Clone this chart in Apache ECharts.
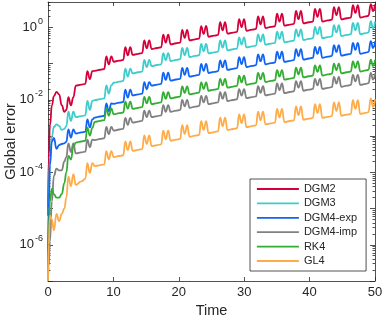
<!DOCTYPE html>
<html><head><meta charset="utf-8">
<script src="https://cdn.jsdelivr.net/npm/echarts@6/dist/echarts.min.js"></script>
<style>html,body{margin:0;padding:0;background:#fff}#c{width:382px;height:316px}</style>
</head><body><div id="c"></div>
<script>
// Shared time samples (x values)
const time = [0, 0.1, 0.3, 0.6, 0.9, 1.3, 1.7, 2.1, 2.5,
 2.8, 3.12, 3.5, 3.88, 4.25, 5.1,
 5.7, 6.02, 6.4, 6.78, 7.15, 8.0,
 8.6, 8.92, 9.3, 9.68, 10.05, 10.9,
 11.5, 11.82, 12.2, 12.58, 12.95, 13.8,
 14.4, 14.72, 15.1, 15.48, 15.85, 16.7,
 17.3, 17.62, 18.0, 18.38, 18.75, 19.6,
 20.2, 20.52, 20.9, 21.28, 21.65, 22.5,
 23.1, 23.42, 23.8, 24.18, 24.55, 25.4,
 26.0, 26.32, 26.7, 27.08, 27.45, 28.3,
 28.9, 29.22, 29.6, 29.98, 30.35, 31.2,
 31.8, 32.12, 32.5, 32.88, 33.25, 34.1,
 34.7, 35.02, 35.4, 35.78, 36.15, 37.0,
 37.6, 37.92, 38.3, 38.68, 39.05, 39.9,
 40.5, 40.82, 41.2, 41.58, 41.95, 42.8,
 43.4, 43.72, 44.1, 44.48, 44.85, 45.7,
 46.3, 46.62, 47.0, 47.38, 47.75, 48.6,
 49.0, 49.35, 49.7, 50.0];

// Global error, stored as exponents (log10 of the error)
const dgm2Exp = [-5.2, -3.6, -2.7, -2.15, -1.9, -1.78, -1.85, -2.15, -2.33,
 -2.28, -1.93, -2.15, -1.93, -1.61, -1.58,
 -1.56, -1.21, -1.43, -1.21, -1.20, -1.17,
 -1.15, -0.80, -1.02, -0.80, -0.95, -0.92,
 -0.90, -0.55, -0.77, -0.55, -0.76, -0.73,
 -0.71, -0.36, -0.58, -0.36, -0.60, -0.57,
 -0.55, -0.20, -0.42, -0.20, -0.47, -0.44,
 -0.42, -0.07, -0.29, -0.07, -0.36, -0.33,
 -0.31, 0.03, -0.18, 0.04, -0.26, -0.23,
 -0.21, 0.14, -0.08, 0.14, -0.175, -0.145,
 -0.125, 0.225, 0.005, 0.225, -0.095, -0.065,
 -0.045, 0.305, 0.085, 0.305, -0.02, 0.01,
 0.03, 0.38, 0.16, 0.38, 0.045, 0.075,
 0.095, 0.45, 0.225, 0.45, 0.11, 0.14,
 0.16, 0.51, 0.29, 0.51, 0.16, 0.19,
 0.21, 0.56, 0.34, 0.56, 0.22, 0.25,
 0.27, 0.61, 0.40, 0.61, 0.27, 0.30,
 0.32, 0.64, 0.45, 0.63];

const dgm3Exp = [-6.6, -4.6, -3.6, -3.0, -2.75, -2.68, -2.72, -2.83, -2.80,
 -2.73, -2.33, -2.58, -2.33, -2.48, -2.45,
 -2.43, -2.03, -2.28, -2.03, -2.01, -1.98,
 -1.96, -1.60, -1.83, -1.60, -1.53, -1.50,
 -1.48, -1.14, -1.36, -1.14, -1.27, -1.24,
 -1.22, -0.90, -1.10, -0.90, -1.07, -1.04,
 -1.02, -0.71, -0.91, -0.71, -0.93, -0.90,
 -0.88, -0.57, -0.77, -0.57, -0.82, -0.79,
 -0.77, -0.46, -0.66, -0.46, -0.72, -0.69,
 -0.67, -0.36, -0.56, -0.36, -0.635, -0.605,
 -0.585, -0.275, -0.475, -0.275, -0.555, -0.525,
 -0.505, -0.195, -0.395, -0.195, -0.48, -0.45,
 -0.43, -0.12, -0.32, -0.12, -0.415, -0.385,
 -0.365, -0.055, -0.255, -0.055, -0.35, -0.32,
 -0.30, 0.01, -0.19, 0.01, -0.30, -0.27,
 -0.25, 0.06, -0.14, 0.06, -0.24, -0.21,
 -0.19, 0.12, -0.08, 0.12, -0.19, -0.16,
 -0.14, 0.17, -0.03, 0.16];

const dgm4ExpExp = [-6.8, -5.0, -3.8, -3.15, -3.05, -3.35, -3.25, -3.22, -3.20,
 -3.16, -2.82, -3.04, -2.82, -2.93, -2.90,
 -2.88, -2.54, -2.76, -2.54, -2.49, -2.46,
 -2.44, -2.10, -2.32, -2.10, -2.11, -2.08,
 -2.06, -1.72, -1.94, -1.72, -1.88, -1.85,
 -1.83, -1.51, -1.71, -1.51, -1.61, -1.58,
 -1.56, -1.25, -1.45, -1.25, -1.47, -1.44,
 -1.42, -1.12, -1.31, -1.12, -1.36, -1.33,
 -1.31, -1.01, -1.20, -1.01, -1.26, -1.23,
 -1.21, -0.91, -1.10, -0.91, -1.175, -1.145,
 -1.125, -0.825, -1.015, -0.825, -1.095, -1.065,
 -1.045, -0.745, -0.935, -0.745, -1.02, -0.99,
 -0.97, -0.67, -0.86, -0.67, -0.955, -0.925,
 -0.905, -0.605, -0.795, -0.605, -0.89, -0.86,
 -0.84, -0.54, -0.73, -0.54, -0.84, -0.81,
 -0.79, -0.49, -0.68, -0.49, -0.78, -0.75,
 -0.73, -0.43, -0.62, -0.43, -0.73, -0.70,
 -0.68, -0.38, -0.57, -0.39];

const dgm4ImpExp = [-7.0, -6.6, -5.9, -4.8, -4.1, -3.9, -3.95, -3.95, -3.7,
 -3.58, -3.20, -3.44, -3.20, -3.48, -3.45,
 -3.43, -3.10, -3.31, -3.10, -3.11, -3.08,
 -3.06, -2.75, -2.95, -2.75, -2.85, -2.82,
 -2.80, -2.50, -2.69, -2.50, -2.63, -2.60,
 -2.58, -2.30, -2.48, -2.30, -2.48, -2.45,
 -2.43, -2.15, -2.33, -2.15, -2.33, -2.30,
 -2.28, -2.00, -2.18, -2.00, -2.22, -2.19,
 -2.17, -1.89, -2.07, -1.89, -2.12, -2.09,
 -2.07, -1.79, -1.97, -1.79, -2.035, -2.005,
 -1.985, -1.705, -1.885, -1.705, -1.955, -1.925,
 -1.905, -1.625, -1.805, -1.625, -1.88, -1.85,
 -1.83, -1.55, -1.73, -1.55, -1.815, -1.785,
 -1.765, -1.485, -1.665, -1.485, -1.75, -1.72,
 -1.70, -1.42, -1.60, -1.42, -1.70, -1.67,
 -1.65, -1.37, -1.55, -1.37, -1.64, -1.61,
 -1.59, -1.31, -1.49, -1.31, -1.59, -1.56,
 -1.54, -1.26, -1.44, -1.27];

const rk4Exp = [-7.0, -5.8, -4.8, -4.45, -4.6, -4.7, -4.7, -4.6, -4.3,
 -4.0, -3.55, -3.65, -3.30, -3.18, -3.15,
 -3.13, -2.77, -2.99, -2.77, -2.61, -2.58,
 -2.56, -2.24, -2.44, -2.24, -2.40, -2.37,
 -2.35, -2.05, -2.24, -2.05, -2.25, -2.22,
 -2.20, -1.92, -2.10, -1.92, -2.12, -2.09,
 -2.07, -1.79, -1.97, -1.79, -1.96, -1.93,
 -1.91, -1.63, -1.81, -1.63, -1.85, -1.82,
 -1.80, -1.52, -1.70, -1.52, -1.75, -1.72,
 -1.70, -1.42, -1.60, -1.42, -1.665, -1.635,
 -1.615, -1.335, -1.515, -1.335, -1.585, -1.555,
 -1.535, -1.255, -1.435, -1.255, -1.51, -1.48,
 -1.46, -1.18, -1.36, -1.18, -1.445, -1.415,
 -1.395, -1.115, -1.295, -1.115, -1.38, -1.35,
 -1.33, -1.05, -1.23, -1.05, -1.33, -1.30,
 -1.28, -1.00, -1.18, -1.00, -1.27, -1.24,
 -1.22, -0.94, -1.12, -0.94, -1.22, -1.19,
 -1.17, -0.89, -1.07, -0.90];

const gl4Exp = [-7.0, -6.0, -5.2, -5.3, -5.6, -5.15, -5.35, -5.15, -5.0,
 -4.70, -4.12, -4.38, -4.05, -4.35, -4.25,
 -4.18, -3.75, -4.02, -3.75, -3.83, -3.80,
 -3.78, -3.42, -3.64, -3.42, -3.58, -3.55,
 -3.53, -3.15, -3.39, -3.15, -3.41, -3.38,
 -3.36, -2.98, -3.22, -2.98, -3.28, -3.25,
 -3.23, -2.85, -3.09, -2.85, -3.13, -3.10,
 -3.08, -2.70, -2.94, -2.70, -3.02, -2.99,
 -2.97, -2.59, -2.83, -2.59, -2.92, -2.89,
 -2.87, -2.49, -2.73, -2.49, -2.835, -2.805,
 -2.785, -2.405, -2.645, -2.405, -2.755, -2.725,
 -2.705, -2.325, -2.565, -2.325, -2.68, -2.65,
 -2.63, -2.25, -2.49, -2.25, -2.615, -2.585,
 -2.565, -2.185, -2.425, -2.185, -2.55, -2.52,
 -2.50, -2.12, -2.36, -2.12, -2.50, -2.47,
 -2.45, -2.07, -2.31, -2.07, -2.44, -2.41,
 -2.39, -2.01, -2.25, -2.01, -2.39, -2.36,
 -2.34, -1.96, -2.20, -1.98];

const seriesNames = ['DGM2', 'DGM3', 'DGM4-exp', 'DGM4-imp', 'RK4', 'GL4'];
const seriesExps = [dgm2Exp, dgm3Exp, dgm4ExpExp, dgm4ImpExp, rk4Exp, gl4Exp];
const seriesColors = ['#d4003a', '#3fcccc', '#1064f5', '#808080', '#33ad33', '#ffac48'];

const xTicks = [0, 10, 20, 30, 40, 50];
const yMajorTicks = [1e-7, 1e-6, 1e-5, 1e-4, 1e-3, 1e-2, 1e-1, 1];
const yLabelTicks = [1e-6, 1e-4, 1e-2, 1];
const yMinorTicks = [];
for (let e = -7; e <= 0; e++) for (let m = 2; m <= 9; m++) { const v = m * Math.pow(10, e); if (v <= 5) yMinorTicks.push(v); }

const FONT = '"Liberation Sans", Arial, Helvetica, sans-serif';
const AX = '#262626';

const chart = echarts.init(document.getElementById('c'), null, { renderer: 'canvas' });

function yAx(pos, ticks, len, showLine, labels) {
  return {
    type: 'log', logBase: 10, min: 1e-7, max: 5, position: pos,
    axisLine: { show: showLine, lineStyle: { color: AX, width: 0.8 } },
    axisTick: { show: true, inside: true, length: len, customValues: ticks, lineStyle: { color: AX, width: 0.8 } },
    axisLabel: labels ? {
      show: true, customValues: yLabelTicks, margin: 5, fontFamily: FONT,
      formatter: v => { const e = Math.round(Math.log10(v)); return '{b|10}{s|' + (e < 0 ? '-' + (-e) : e) + '}'; },
      rich: {
        b: { fontSize: 13, color: AX, fontFamily: FONT, verticalAlign: 'bottom', lineHeight: 13 },
        s: { fontSize: 9, color: AX, fontFamily: FONT, verticalAlign: 'bottom', lineHeight: 9, padding: [0, 0, 8, 1] }
      }
    } : { show: false },
    splitLine: { show: false },
    name: labels ? 'Global error' : '', nameLocation: 'middle', nameGap: 30, nameMoveOverlap: false,
    nameTextStyle: { fontSize: 14.5, color: AX, fontFamily: FONT }
  };
}
function xAx(pos, labels) {
  return {
    type: 'value', min: 0, max: 50, interval: 10, position: pos,
    axisLine: { show: true, lineStyle: { color: AX, width: 0.8 } },
    axisTick: { show: true, inside: true, length: 4, lineStyle: { color: AX, width: 0.8 } },
    axisLabel: labels ? { show: true, margin: 5, fontSize: 13, color: AX, fontFamily: FONT } : { show: false },
    splitLine: { show: false },
    name: labels ? 'Time' : '', nameLocation: 'middle', nameGap: 17,
    nameTextStyle: { fontSize: 14.5, color: AX, fontFamily: FONT }
  };
}

chart.setOption({
  animation: false,
  backgroundColor: '#fff',
  grid: { left: 48, right: 7, top: 2, bottom: 35, containLabel: false, outerBoundsMode: 'none' },
  xAxis: [xAx('bottom', true), xAx('top', false)],
  yAxis: [
    yAx('left', yMajorTicks, 5, true, true),
    yAx('left', yMinorTicks, 2.5, false, false),
    yAx('right', yMajorTicks, 5, true, false),
    yAx('right', yMinorTicks, 2.5, false, false)
  ],
  legend: {
    show: true,
    orient: 'vertical', left: 250, top: 179,
    data: seriesNames,
    itemWidth: 42, itemHeight: 11, itemGap: 3.4,
    padding: [4.5, 9, 4.5, 6],
    backgroundColor: '#fff', borderColor: AX, borderWidth: 0.8,
    itemStyle: { opacity: 0 },
    lineStyle: { width: 1.8 },
    textStyle: { fontSize: 11, color: AX, fontFamily: FONT, lineHeight: 11 }
  },
  series: seriesNames.map((name, i) => ({
    name, type: 'line', xAxisIndex: 0, yAxisIndex: 0,
    data: time.map((t, j) => [t, Math.pow(10, seriesExps[i][j])]),
    symbol: 'none', smooth: 0.5, smoothMonotone: 'x',
    lineStyle: { color: seriesColors[i], width: 1.8 },
    itemStyle: { color: seriesColors[i] },
    clip: true
  }))
});
</script>
</body></html>
